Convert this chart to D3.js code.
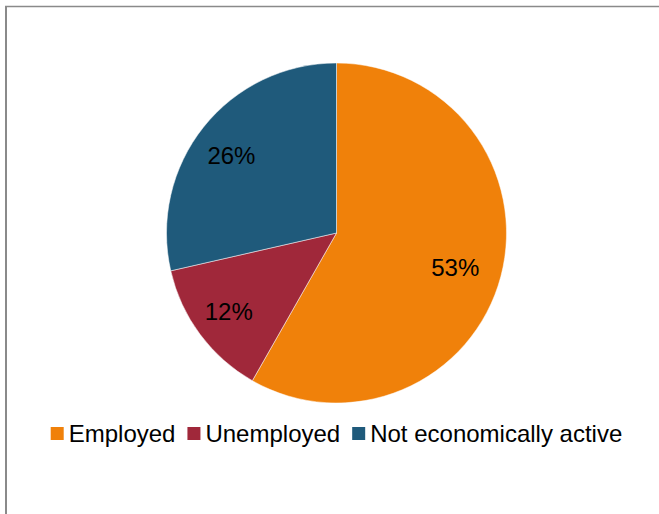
<!DOCTYPE html>
<html>
<head>
<meta charset="utf-8">
<script src="https://cdn.jsdelivr.net/npm/d3@7"></script>
<style>
  html, body { margin: 0; padding: 0; background: #fff; }
  svg { display: block; font-family: "Liberation Sans", Arial, sans-serif; }
</style>
</head>
<body>
<svg id="chart" width="659" height="514"></svg>
<script>
// chart data
const categories = ['Employed', 'Unemployed', 'Not economically active'];
const values = [53, 12, 26];
const labels = ['53%', '12%', '26%'];
const colors = ['#F0810A', '#A0283A', '#1F5A7B'];

const svg = d3.select('#chart'),
	width = +svg.attr('width'),
	height = +svg.attr('height');

// frame (left + top edges only visible)
svg.append('line')
	.attr('x1', 6).attr('y1', 6).attr('x2', 6).attr('y2', height)
	.attr('stroke', '#8a8a8a').attr('stroke-width', 2);
svg.append('line')
	.attr('x1', 5).attr('y1', 6.5).attr('x2', width).attr('y2', 6.5)
	.attr('stroke', '#8a8a8a').attr('stroke-width', 1.5);

const cx = 336.5, cy = 233, radius = 170;

const pie = d3.pie().sort(null).value(d => d.value);
const arc = d3.arc().innerRadius(0).outerRadius(radius);
const labelArc = d3.arc().innerRadius(128).outerRadius(128);

const data = categories.map((c, i) => ({ name: c, value: values[i], label: labels[i], color: colors[i] }));

const g = svg.append('g')
	.attr('transform', 'translate(' + cx + ',' + cy + ')');

g.selectAll('.slice')
	.data(pie(data))
	.enter().append('path')
	.attr('class', 'slice')
	.attr('d', arc)
	.attr('fill', d => d.data.color)
	.attr('stroke', '#fff')
	.attr('stroke-width', 0.5);

g.selectAll('.lbl')
	.data(pie(data))
	.enter().append('text')
	.attr('class', 'lbl')
	.attr('transform', d => {
		const c = labelArc.centroid(d);
		return 'translate(' + (c[0] - 5) + ',' + (c[1] + 2) + ')';
	})
	.attr('text-anchor', 'middle')
	.attr('dy', '0.36em')
	.attr('font-size', 24)
	.attr('fill', '#000')
	.text(d => d.data.label);

// legend
const legend = svg.append('g').attr('class', 'legend');
const boxSize = 13, gap = 5, itemGap = 12, legendY = 427;
let items = legend.selectAll('.item')
	.data(data)
	.enter().append('g')
	.attr('class', 'item');

items.append('rect')
	.attr('width', boxSize).attr('height', boxSize)
	.attr('fill', d => d.color);

items.append('text')
	.attr('x', boxSize + gap)
	.attr('y', boxSize / 2)
	.attr('dy', '0.36em')
	.attr('font-size', 24)
	.attr('fill', '#000')
	.text(d => d.name);

// lay out the items horizontally, centred
let offsets = [], x = 0;
items.each(function(){
	offsets.push(x);
	x += this.getBBox().width + itemGap;
});
const total = x - itemGap;
const startX = cx - total / 2;
items.attr('transform', (d, i) => 'translate(' + (startX + offsets[i]) + ',' + legendY + ')');
</script>
</body>
</html>
